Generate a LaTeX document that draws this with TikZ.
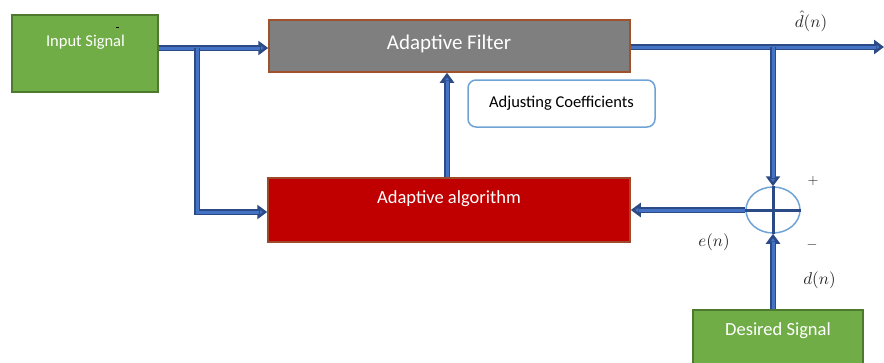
\documentclass[tikz,border=0pt]{standalone}
\usepackage{fontspec}
\setmainfont{Carlito}
\usetikzlibrary{arrows.meta,shapes.geometric}
\definecolor{gfill}{HTML}{70AD47}
\definecolor{gdraw}{HTML}{4E7A30}
\definecolor{grayf}{HTML}{7F7F7F}
\definecolor{brownd}{HTML}{A0522D}
\definecolor{redf}{HTML}{C00000}
\definecolor{redd}{HTML}{9E4A2A}
\definecolor{lblue}{HTML}{6FA3D6}
\definecolor{adark}{HTML}{2B4A86}
\definecolor{ablue}{HTML}{4472C4}
\newcommand{\mlabtext}[1]{\scalebox{1.7}{$#1$}}
\begin{document}
\begin{tikzpicture}[x=1pt,y=-1pt,
  gbox/.style={draw=gdraw,fill=gfill,line width=1.2pt,minimum width=#1,inner sep=0pt},
  blk/.style={line width=1.5pt,inner sep=0pt},
  wtxt/.style={text=white,inner sep=0pt},
  flow/.style={draw=adark,line width=6pt,-{Triangle[length=10pt,width=14pt,fill=ablue]},
    postaction={draw=ablue,line width=3pt,shorten >=8pt,-}},
  flowline/.style={draw=adark,line width=6pt,postaction={draw=ablue,line width=3pt}},
  mlab/.style={inner sep=0pt,text=black!85}
]
\useasboundingbox (0,0) rectangle (884,362);
\clip (0,0) rectangle (884,362);

% boxes
\node[gbox=146pt,minimum height=77pt] (in) at (85,53.5) {};
\node[wtxt,font=\fontsize{16.5}{18}\selectfont] (inlbl) at (85.5,42) {Input Signal};
\draw[line width=1pt] (116,27.5) -- (119,27.5);

\node[blk,draw=brownd,fill=grayf,minimum width=361pt,minimum height=52pt] (af) at (449.5,46) {};
\node[wtxt,font=\fontsize{21}{24}\selectfont] (aflbl) at (449,44) {Adaptive Filter};

\node[draw=lblue,fill=white,line width=1.5pt,rounded corners=8pt,minimum width=187pt,minimum height=47pt,inner sep=0pt,font=\fontsize{16.5}{18}\selectfont] (adj) at (561.5,103.5) {Adjusting Coefficients};

\node[blk,draw=redd,fill=redf,minimum width=362pt,minimum height=64pt] (alg) at (449,210) {};
\node[wtxt,font=\fontsize{18.5}{21}\selectfont] (alglbl) at (449,199) {Adaptive algorithm};

\node[gbox=170pt,minimum height=60pt] (des) at (778,340) {};
\node[wtxt,font=\fontsize{18.5}{21}\selectfont] (deslbl) at (778,331) {Desired Signal};

\node[ellipse,draw=lblue,line width=1.5pt,minimum width=54pt,minimum height=46pt,inner sep=0pt] (sum) at (773,210) {};

% junction coordinates
\coordinate (j1) at (197,48);
\coordinate (j1b) at (197,212);
\coordinate (j2) at (773,47);
\coordinate (out) at (884,47);

% connectors
\draw[flowline] (in.east |- j1) -- (j1);
\draw[flow] (j1) -- (af.west |- j1);
\draw[flow] (j1) -- (j1b) -- (alg.west |- j1b);
\draw[flow] (alg.north -| 447,0) -- (af.south -| 447,0);
\draw[flowline] (af.east |- j2) -- (j2);
\draw[flow] (j2) -- (out);
\draw[flow] (j2) -- (sum.north);
\draw[flow] (sum.west) -- (alg.east |- sum.west);
\draw[flow] (des.north -| sum) -- (sum.south);

% cross
\draw[adark,line width=3pt] (sum.west) -- (sum.east);
\draw[adark,line width=3pt] (sum.north) -- (sum.south);

% labels
\node[mlab] (dhat) at (811,21) {\mlabtext{\hat{d}(n)}};
\node[mlab] (plus) at (813,181) {\scalebox{1.4}{$+$}};
\node[mlab] (en) at (714,242) {\mlabtext{e(n)}};
\node[mlab] (minus) at (812,245) {\scalebox{1.4}{$-$}};
\node[mlab] (dn) at (819.5,280) {\mlabtext{d(n)}};
\end{tikzpicture}
\end{document}
